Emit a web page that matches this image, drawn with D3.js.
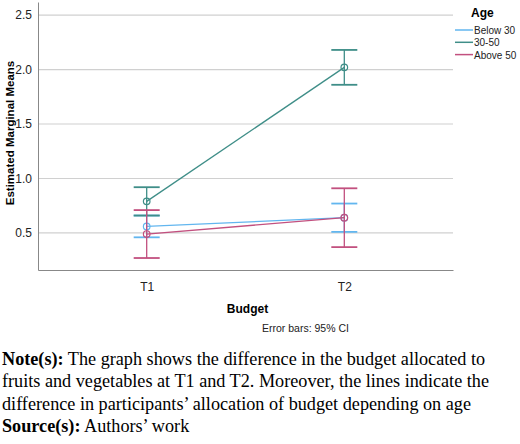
<!DOCTYPE html>
<html lang="en">
<head>
<meta charset="UTF-8">
<script src="https://d3js.org/d3.v7.min.js"></script>
<style>
  body { margin: 0; background: #fff; }
  .note { position: absolute; left: 2px; top: 348px; width: 516px; font-family: "Liberation Serif", serif; font-size: 18.2px; line-height: 22.3px; color: #000; }
</style>
</head>
<body>
<svg id="chart" width="520" height="340"></svg>
<div class="note"><b>Note(s):</b> The graph shows the difference in the budget allocated to fruits and vegetables at T1 and T2. Moreover, the lines indicate the difference in participants’ allocation of budget depending on age<br><b>Source(s):</b> Authors’ work</div>
<script>
const times = ["T1", "T2"];
const groups = ["Below 30", "30-50", "Above 50"];
const colors = ["#62b6ef", "#3f8e88", "#c2507f"];
const means = [[0.56, 0.64], [0.79, 2.02], [0.49, 0.64]];
const lower = [[0.46, 0.51], [0.66, 1.86], [0.27, 0.37]];
const upper = [[0.66, 0.77], [0.92, 2.18], [0.71, 0.91]];
const yTicks = [0.5, 1.0, 1.5, 2.0, 2.5];

const svg = d3.select("#chart");
const mLeft = 38, mRight = 453, mTop = 2, mBottom = 270;
const x = d3.scalePoint().domain(times).range([mLeft, mRight]).padding(0.55);
const y = d3.scaleLinear().domain([0.16, 2.62]).range([mBottom, mTop]);

svg.append("g").selectAll("line").data(yTicks).join("line")
  .attr("x1", mLeft).attr("x2", mRight).attr("y1", d => y(d)).attr("y2", d => y(d))
  .attr("stroke", "#d0d0d0").attr("stroke-width", 1.2);

const yAxis = svg.append("g").attr("transform", `translate(${mLeft},0)`)
  .call(d3.axisLeft(y).tickValues(yTicks).tickFormat(d3.format(".1f")).tickSize(0).tickPadding(6));
yAxis.select(".domain").attr("stroke", "#888");
const xAxis = svg.append("g").attr("transform", `translate(0,${mBottom})`)
  .call(d3.axisBottom(x).tickSize(0).tickPadding(12));
xAxis.select(".domain").attr("stroke", "#888");
svg.selectAll(".tick text").attr("font-family", "Arial, Liberation Sans, sans-serif").attr("font-size", 12).attr("fill", "#222");

svg.append("text").attr("x", (mLeft + mRight) / 2 + 2).attr("y", 313).attr("text-anchor", "middle")
  .attr("font-family", "Liberation Sans, sans-serif").attr("font-weight", "bold").attr("font-size", 12).text("Budget");
svg.append("text").attr("transform", `translate(14,${(mTop + mBottom) / 2 - 3}) rotate(-90)`).attr("text-anchor", "middle")
  .attr("font-family", "Liberation Sans, sans-serif").attr("font-weight", "bold").attr("font-size", 11.5).text("Estimated Marginal Means");

groups.forEach((g, i) => {
  const c = colors[i];
  const grp = svg.append("g");
  times.forEach((t, j) => {
    const cx = x(t);
    grp.append("line").attr("x1", cx).attr("x2", cx).attr("y1", y(lower[i][j])).attr("y2", y(upper[i][j])).attr("stroke", c).attr("stroke-width", 1.3);
    [lower[i][j], upper[i][j]].forEach(v => grp.append("line").attr("x1", cx - 13).attr("x2", cx + 13)
      .attr("y1", y(v)).attr("y2", y(v)).attr("stroke", c).attr("stroke-width", 1.8));
  });
  grp.append("path").datum(means[i])
    .attr("d", d3.line().x((d, j) => x(times[j])).y(d => y(d)))
    .attr("fill", "none").attr("stroke", c).attr("stroke-width", 1.3);
  grp.selectAll("circle").data(means[i]).join("circle")
    .attr("cx", (d, j) => x(times[j])).attr("cy", d => y(d)).attr("r", 3.3)
    .attr("fill", "none").attr("stroke", c).attr("stroke-width", 1.2);
});

svg.append("text").attr("x", 471).attr("y", 17).attr("font-family", "Liberation Sans, sans-serif")
  .attr("font-weight", "bold").attr("font-size", 12).text("Age");
groups.forEach((g, i) => {
  const ly = 30 + i * 12.3;
  svg.append("line").attr("x1", 455).attr("x2", 473).attr("y1", ly).attr("y2", ly).attr("stroke", colors[i]).attr("stroke-width", 1.5);
  svg.append("text").attr("x", 474).attr("y", ly + 4).attr("font-family", "Arial, Liberation Sans, sans-serif")
    .attr("font-size", 10).attr("fill", "#222").text(g);
});

svg.append("text").attr("x", 262).attr("y", 332).attr("font-family", "Arial, Liberation Sans, sans-serif")
  .attr("font-size", 10.5).attr("fill", "#222").text("Error bars: 95% CI");
</script>
</body>
</html>
